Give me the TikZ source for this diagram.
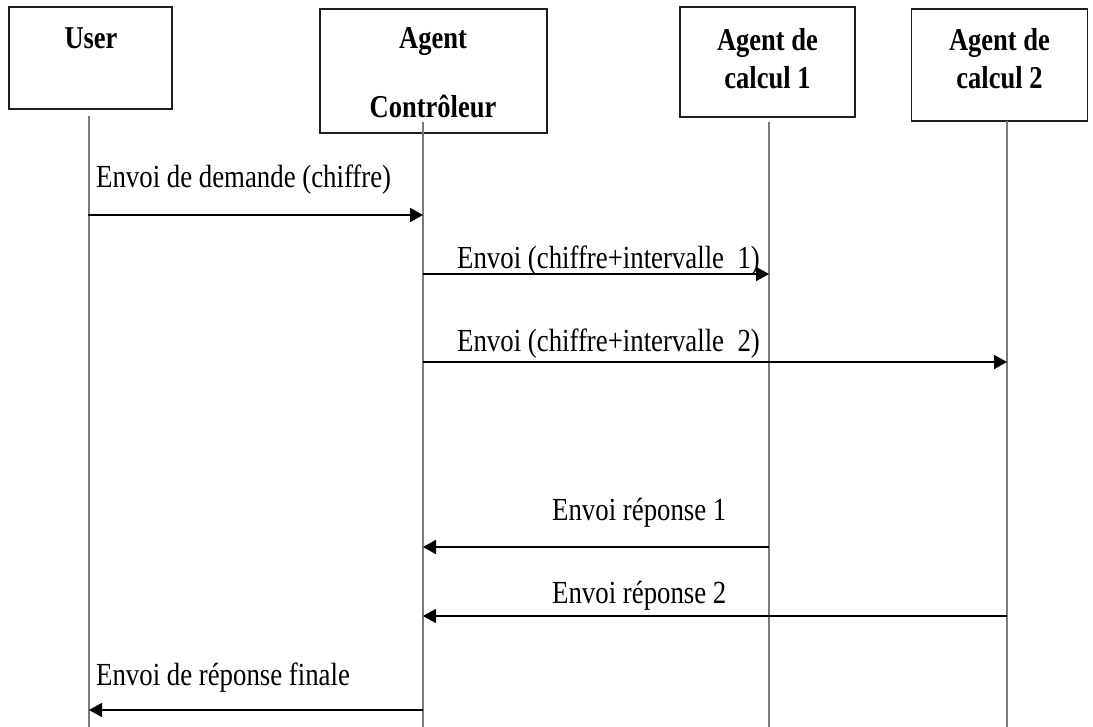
\documentclass[tikz,border=0pt]{standalone}
\usepackage{graphicx}
\usepackage{fontspec}
\setmainfont{Liberation Serif}
\usetikzlibrary{arrows.meta}

% text set slightly tall, as in the original document
\newcommand\tallText[1]{\scalebox{1}[1.2]{#1}}

\tikzset{
  actorbox/.style={draw=black!88, line width=1.6pt, fill=none, inner sep=0pt},
  actortitle/.style={inner sep=0pt, font=\fontsize{26.5}{30}\selectfont\bfseries},
  msglabel/.style={inner sep=0pt, anchor=base west, font=\fontsize{26.8}{30}\selectfont},
  lifeline/.style={draw=black!52, line width=2.5pt},
  msg/.style={draw=black, line width=1.8pt, -{Triangle[length=13pt,width=14pt]}},
}

\begin{document}
\begin{tikzpicture}[x=1pt,y=-1pt]
  \fill[white] (0,0) rectangle (1093,727);
  \useasboundingbox (0,0) rectangle (1093,727);

  % participant boxes
  \node[actorbox, minimum width=163pt, minimum height=102pt] (user)  at (90.5,58) {};
  \node[actorbox, minimum width=227pt, minimum height=124pt] (ctrl)  at (433.5,71) {};
  \node[actorbox, minimum width=175pt, minimum height=110pt] (calc1) at (767.5,62) {};
  \node[actorbox, minimum width=176pt, minimum height=112pt] (calc2) at (999.5,65) {};

  % participant names
  \node[actortitle, anchor=base] (userT)   at (91,49)    {\tallText{User}};
  \node[actortitle, anchor=base] (ctrlT1)  at (433,49)   {\tallText{Agent}};
  \node[actortitle, anchor=base] (ctrlT2)  at (433,118)  {\tallText{Contrôleur}};
  \node[actortitle, anchor=base] (calc1T1) at (767.5,51) {\tallText{Agent de}};
  \node[actortitle, anchor=base] (calc1T2) at (767.5,89) {\tallText{calcul 1}};
  \node[actortitle, anchor=base] (calc2T1) at (999.5,51) {\tallText{Agent de}};
  \node[actortitle, anchor=base] (calc2T2) at (999.5,89) {\tallText{calcul 2}};

  % lifelines
  \coordinate (uTop) at (89,116);   \coordinate (uBot) at (89,727);
  \coordinate (cTop) at (423,122);  \coordinate (cBot) at (423,727);
  \coordinate (aTop) at (769,122);  \coordinate (aBot) at (769,727);
  \coordinate (bTop) at (1007,121); \coordinate (bBot) at (1007,727);
  \draw[lifeline] (uTop) -- (uBot);
  \draw[lifeline] (cTop) -- (cBot);
  \draw[lifeline] (aTop) -- (aBot);
  \draw[lifeline] (bTop) -- (bBot);

  % message end points on the lifelines
  \coordinate (m1u) at (88,215);  \coordinate (m1c) at (423,215);
  \coordinate (m2c) at (423,274); \coordinate (m2a) at (769,274);
  \coordinate (m3c) at (423,362); \coordinate (m3b) at (1007,362);
  \coordinate (m4a) at (769,547); \coordinate (m4c) at (423,547);
  \coordinate (m5b) at (1007,616); \coordinate (m5c) at (423,616);
  \coordinate (m6c) at (423,710); \coordinate (m6u) at (89,710);

  % messages
  \draw[msg] (m1u) -- (m1c);
  \draw[msg] (m2c) -- (m2a);
  \draw[msg] (m3c) -- (m3b);
  \draw[msg] (m4a) -- (m4c);
  \draw[msg] (m5b) -- (m5c);
  \draw[msg] (m6c) -- (m6u);

  % message labels
  \node[msglabel] (l1) at (96,188)  {\tallText{Envoi de demande (chiffre)}};
  \node[msglabel] (l2) at (457,269) {\tallText{Envoi (chiffre+intervalle\ \ 1)}};
  \node[msglabel] (l3) at (457,352) {\tallText{Envoi (chiffre+intervalle\ \ 2)}};
  \node[msglabel] (l4) at (552,520) {\tallText{Envoi réponse 1}};
  \node[msglabel] (l5) at (552,603) {\tallText{Envoi réponse 2}};
  \node[msglabel] (l6) at (96,685)  {\tallText{Envoi de réponse finale}};
\end{tikzpicture}
\end{document}
